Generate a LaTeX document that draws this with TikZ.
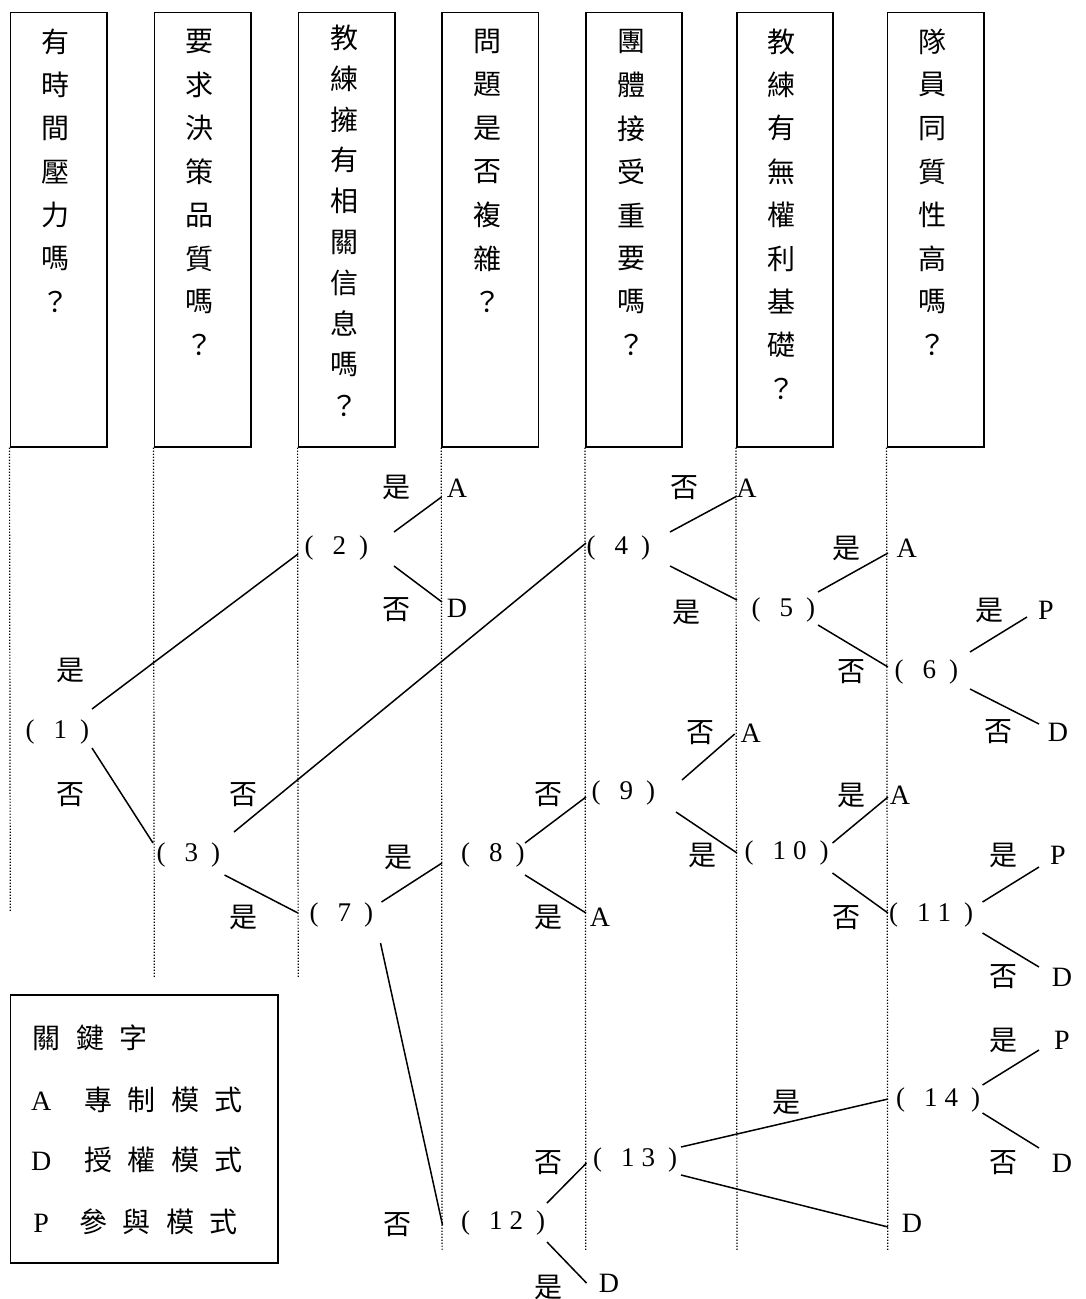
\documentclass[tikz,border=0pt]{standalone}
\usepackage{fontspec}
\setmainfont{Liberation Serif}
\newfontfamily\cjk{Noto Sans CJK TC}
\newcommand\ck{\cjk\fontsize{28}{30}\selectfont}
\newcommand\lt{\fontsize{27}{32}\selectfont}
\newcommand\lf{\fontsize{28}{32}\selectfont}
\newcommand\pn[1]{(\kern19pt #1\kern13pt)}
\begin{document}
\begin{tikzpicture}[x=1pt,y=-1pt,
  qbox/.style={draw, line width=1.6pt, minimum width=96.4pt, minimum height=434.4pt, inner sep=0pt},
  qch/.style={font=\ck, inner sep=0pt},
  dotline/.style={line width=1.2pt, dash pattern=on 1.3pt off 1.7pt},
  conn/.style={line width=1.5pt},
  tnode/.style={font=\lt, inner sep=0pt, anchor=west},
  leaf/.style={font=\lf, inner sep=0pt},
  yn/.style={font=\ck, inner sep=0pt},
  keyrow/.style={anchor=west, inner sep=0pt, font=\lf}]
\useasboundingbox (0,0) rectangle (1085,1299);

% question boxes
\node[qbox] (q1) at (58.5,229.5) {};
\node[qbox] (q2) at (202.5,229.5) {};
\node[qbox] (q3) at (346.6,229.5) {};
\node[qbox] (q4) at (490.3,229.5) {};
\node[qbox] (q5) at (633.9,229.5) {};
\node[qbox] (q6) at (784.9,229.5) {};
\node[qbox] (q7) at (935.5,229.5) {};

\foreach \ch [count=\i] in {有,時,間,壓,力,嗎,？}
  \node[qch] (c1-\i) at (55,{41.5+43.4*(\i-1)}) {\ch};
\foreach \ch [count=\i] in {要,求,決,策,品,質,嗎,？}
  \node[qch] (c2-\i) at (199.7,{41.5+43.4*(\i-1)}) {\ch};
\foreach \ch [count=\i] in {教,練,擁,有,相,關,信,息,嗎,？}
  \node[qch] (c3-\i) at (344,{37.5+40.9*(\i-1)}) {\ch};
\foreach \ch [count=\i] in {問,題,是,否,複,雜,？}
  \node[qch] (c4-\i) at (487,{41.5+43.4*(\i-1)}) {\ch};
\foreach \ch [count=\i] in {團,體,接,受,重,要,嗎,？}
  \node[qch] (c5-\i) at (631,{41.5+43.4*(\i-1)}) {\ch};
\foreach \ch [count=\i] in {教,練,有,無,權,利,基,礎,？}
  \node[qch] (c6-\i) at (781,{41.5+43.4*(\i-1)}) {\ch};
\foreach \ch [count=\i] in {隊,員,同,質,性,高,嗎,？}
  \node[qch] (c7-\i) at (932.6,{41.5+43.4*(\i-1)}) {\ch};

% dotted guide lines
\coordinate (e1) at (10.3,912);
\coordinate (e2) at (154.3,977);
\coordinate (e3) at (298.2,977);
\coordinate (e4) at (442.1,1250);
\coordinate (e5) at (585.8,1250);
\coordinate (e6) at (737,1250);
\coordinate (e7) at (887.8,1250);
\foreach \i in {1,...,7} \draw[dotline] (q\i.south west) -- (e\i);

% tree nodes
\node[tnode] (n1) at (25.5,732) {\pn{1}};
\node[tnode] (n2) at (304.5,548) {\pn{2}};
\node[tnode] (n3) at (156.5,855) {\pn{3}};
\node[tnode] (n4) at (586.5,548) {\pn{4}};
\node[tnode] (n5) at (751.5,610) {\pn{5}};
\node[tnode] (n6) at (894.5,672) {\pn{6}};
\node[tnode] (n7) at (309.5,915) {\pn{7}};
\node[tnode] (n8) at (461,855) {\pn{8}};
\node[tnode] (n9) at (591.5,793) {\pn{9}};
\node[tnode] (n10) at (744.5,853) {\pn{1\kern7pt 0}};
\node[tnode] (n11) at (889,915) {\pn{1\kern7pt 1}};
\node[tnode] (n12) at (461,1223) {\pn{1\kern7pt 2}};
\node[tnode] (n13) at (593,1160) {\pn{1\kern7pt 3}};
\node[tnode] (n14) at (896,1100) {\pn{1\kern7pt 4}};

% leaves
\node[leaf] (a2) at (457,488) {A};
\node[leaf] (d2) at (457,608) {D};
\node[leaf] (a4) at (746.6,488) {A};
\node[leaf] (a5) at (906.7,548) {A};
\node[leaf] (p6) at (1046,610) {P};
\node[leaf] (d6) at (1058,732) {D};
\node[leaf] (a8) at (600,917) {A};
\node[leaf] (a9) at (750.7,733) {A};
\node[leaf] (a10) at (900,795) {A};
\node[leaf] (p11) at (1058,855) {P};
\node[leaf] (d11) at (1062,977) {D};
\node[leaf] (p14) at (1062,1040) {P};
\node[leaf] (d14) at (1062,1163) {D};
\node[leaf] (d13) at (912,1223) {D};
\node[leaf] (d12) at (609,1283) {D};

% yes / no labels
\node[yn] (l1y) at (70.6,670) {是};
\node[yn] (l1n) at (70.6,795) {否};
\node[yn] (l2y) at (396,487) {是};
\node[yn] (l2n) at (396,610) {否};
\node[yn] (l3n) at (243,795) {否};
\node[yn] (l3y) at (243,917) {是};
\node[yn] (l4n) at (684.6,488) {否};
\node[yn] (l4y) at (686,612) {是};
\node[yn] (l5y) at (846.5,548) {是};
\node[yn] (l5n) at (851.6,672) {否};
\node[yn] (l6y) at (989,610) {是};
\node[yn] (l6n) at (998,732) {否};
\node[yn] (l7y) at (398,857) {是};
\node[yn] (l7n) at (397.7,1225) {否};
\node[yn] (l8n) at (548.6,795) {否};
\node[yn] (l8y) at (548,917) {是};
\node[yn] (l9n) at (700,733) {否};
\node[yn] (l9y) at (702,855) {是};
\node[yn] (l10y) at (851.6,795) {是};
\node[yn] (l10n) at (846.5,918) {否};
\node[yn] (l11y) at (1003,855) {是};
\node[yn] (l11n) at (1003,977) {否};
\node[yn] (l12n) at (548,1163) {否};
\node[yn] (l12y) at (548,1287) {是};
\node[yn] (l13y) at (786,1102) {是};
\node[yn] (l14y) at (1003,1040) {是};
\node[yn] (l14n) at (1003,1163) {否};

% connectors
\draw[conn] ([shift={(66.5,-23)}]n1.west) -- ([shift={(-6.5,6)}]n2.west);
\draw[conn] ([shift={(66.5,16)}]n1.west) -- ([shift={(-3.5,-12)}]n3.west);
\draw[conn] ([shift={(89.5,-16)}]n2.west) -- ([shift={(-15.5,9)}]a2.center);
\draw[conn] ([shift={(89.5,18)}]n2.west) -- ([shift={(-15,-6)}]d2.center);
\draw[conn] ([shift={(77.5,-23)}]n3.west) -- ([shift={(-0.5,-5)}]n4.west);
\draw[conn] ([shift={(68,20)}]n3.west) -- ([shift={(-11.5,-2)}]n7.west);
\draw[conn] ([shift={(83.5,-16)}]n4.west) -- ([shift={(-9.6,8)}]a4.center);
\draw[conn] ([shift={(83.5,18)}]n4.west) -- ([shift={(-14.5,-10)}]n5.west);
\draw[conn] ([shift={(66.5,-18)}]n5.west) -- ([shift={(-18.7,5)}]a5.center);
\draw[conn] ([shift={(66.5,15)}]n5.west) -- ([shift={(-6.5,-5)}]n6.west);
\draw[conn] ([shift={(75.5,-20)}]n6.west) -- ([shift={(-19,7)}]p6.center);
\draw[conn] ([shift={(75.5,17)}]n6.west) -- ([shift={(-19,-8)}]d6.center);
\draw[conn] ([shift={(72,-13)}]n7.west) -- ([shift={(-19,8)}]n8.west);
\draw[conn] ([shift={(71,28)}]n7.west) -- ([shift={(-18.5,2)}]n12.west);
\draw[conn] ([shift={(64,-12)}]n8.west) -- ([shift={(-5.5,4)}]n9.west);
\draw[conn] ([shift={(64,20)}]n8.west) -- ([shift={(-14,-4)}]a8.center);
\draw[conn] ([shift={(90.5,-13)}]n9.west) -- ([shift={(-16,1)}]a9.center);
\draw[conn] ([shift={(84.5,19)}]n9.west) -- ([shift={(-7.5,0)}]n10.west);
\draw[conn] ([shift={(88,-10)}]n10.west) -- ([shift={(-12,2)}]a10.center);
\draw[conn] ([shift={(88,20)}]n10.west) -- ([shift={(-1,-2)}]n11.west);
\draw[conn] ([shift={(93.5,-13)}]n11.west) -- ([shift={(-19,12)}]p11.center);
\draw[conn] ([shift={(93.5,18)}]n11.west) -- ([shift={(-23,-10)}]d11.center);
\draw[conn] ([shift={(86,-20)}]n12.west) -- ([shift={(-6.5,3)}]n13.west);
\draw[conn] ([shift={(86,19)}]n12.west) -- ([shift={(-22.5,0)}]d12.center);
\draw[conn] ([shift={(88,-13)}]n13.west) -- ([shift={(-8,-1)}]n14.west);
\draw[conn] ([shift={(88,15)}]n13.west) -- ([shift={(-24,4)}]d13.center);
\draw[conn] ([shift={(86.5,-15)}]n14.west) -- ([shift={(-23,10)}]p14.center);
\draw[conn] ([shift={(86.5,13)}]n14.west) -- ([shift={(-23,-15)}]d14.center);

% legend
\node[draw, line width=1.6pt, minimum width=267.7pt, minimum height=268pt, inner sep=0pt] (key) at (144.15,1129) {};
\node[keyrow, font=\ck] (k0) at (32.5,1038) {關\kern15.5pt 鍵\kern15.5pt 字};
\node[keyrow] (k1) at (30.9,1100) {A\kern32.9pt{\ck 專\kern15.5pt 制\kern15.5pt 模\kern15.5pt 式}};
\node[keyrow] (k2) at (30.9,1160) {D\kern32.9pt{\ck 授\kern15.5pt 權\kern15.5pt 模\kern15.5pt 式}};
\node[keyrow] (k3) at (33.2,1222) {P\kern30.2pt{\ck 參\kern15.5pt 與\kern15.5pt 模\kern15.5pt 式}};
\end{tikzpicture}
\end{document}
